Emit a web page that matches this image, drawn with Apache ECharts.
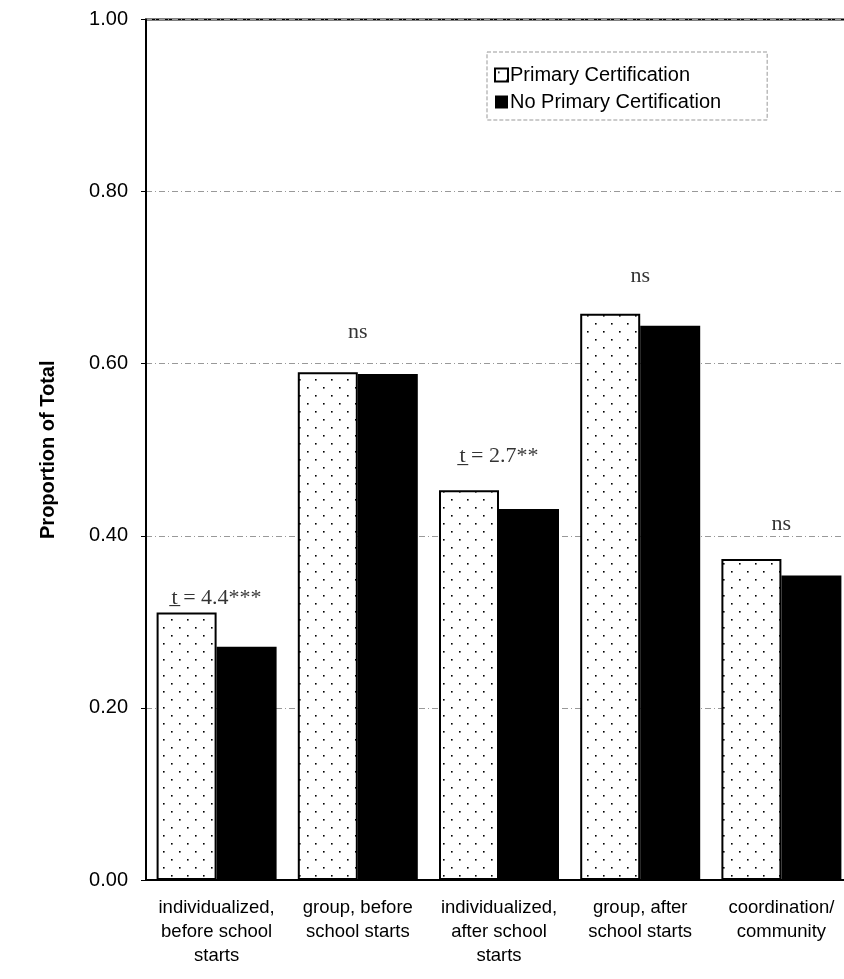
<!DOCTYPE html>
<html>
<head>
<meta charset="utf-8">
<script src="https://cdn.jsdelivr.net/npm/echarts@6/dist/echarts.min.js"></script>
<style>
html,body{margin:0;padding:0;background:#fff;overflow:hidden;}
#chart{width:844px;height:979px;}
</style>
</head>
<body>
<div id="chart"></div>
<script>
const categories = [
  'individualized,\nbefore school\nstarts',
  'group, before\nschool starts',
  'individualized,\nafter school\nstarts',
  'group, after\nschool starts',
  'coordination/\ncommunity'
];
const primaryCert = [0.311, 0.590, 0.453, 0.658, 0.373];
const noPrimaryCert = [0.271, 0.588, 0.431, 0.644, 0.354];
const annotationText = ['t\u0332 = 4.4***', 'ns', 't\u0332 = 2.7**', 'ns', 'ns'];
const annotationY = [0.328, 0.637, 0.492, 0.702, 0.413];

function dotPattern() {
  const c = document.createElement('canvas');
  c.width = 16; c.height = 16;
  const ctx = c.getContext('2d');
  ctx.fillStyle = '#fff';
  ctx.fillRect(0, 0, 16, 16);
  ctx.fillStyle = '#000';
  ctx.fillRect(3, 3, 1.6, 1.6);
  ctx.fillRect(11, 11, 1.6, 1.6);
  return c;
}

const sans = "Arial, 'Liberation Sans', Helvetica, sans-serif";
const serif = "'Times New Roman', 'Liberation Serif', serif";

const chart = echarts.init(document.getElementById('chart'), null, {renderer: 'canvas'});
chart.setOption({
  backgroundColor: '#fff',
  animation: false,
  grid: {left: 146, width: 706, top: 19.5, bottom: 99, show: true, borderColor: '#000', borderWidth: 2,
    backgroundColor: 'transparent', containLabel: false, outerBoundsMode: 'none'},
  legend: {
    data: ['Primary Certification', 'No Primary Certification'],
    orient: 'vertical',
    left: 487, top: 52,
    padding: [13, 46, 8, 7],
    icon: 'rect',
    itemWidth: 13, itemHeight: 13, itemGap: 7,
    borderColor: '#999', borderWidth: 1, borderType: 'dashed',
    textStyle: {fontFamily: sans, fontSize: 20, color: '#000', padding: [0, 0, 0, -3]}
  },
  xAxis: {
    type: 'category',
    data: categories,
    axisLine: {lineStyle: {color: '#000', width: 2}},
    axisTick: {show: false},
    axisLabel: {fontFamily: sans, fontSize: 18.5, color: '#000', lineHeight: 24, margin: 16, interval: 0}
  },
  yAxis: {
    type: 'value',
    min: 0, max: 1, interval: 0.2,
    name: 'Proportion of Total',
    nameLocation: 'middle',
    nameGap: 88,
    nameTextStyle: {fontFamily: sans, fontSize: 20, fontWeight: 'bold', color: '#000'},
    axisLine: {show: true, lineStyle: {color: '#000', width: 2}},
    axisTick: {show: true, length: 5, lineStyle: {color: '#000'}},
    axisLabel: {fontFamily: sans, fontSize: 20, color: '#000', margin: 18,
      formatter: v => v.toFixed(2)},
    splitLine: {show: true, lineStyle: {color: '#999', type: [6, 3, 1, 3], width: 1}}
  },
  series: [
    {
      name: 'Primary Certification',
      type: 'bar',
      data: primaryCert,
      barWidth: 60,
      barGap: '0%',
      itemStyle: {color: {image: dotPattern(), repeat: 'repeat'}, borderColor: '#000', borderWidth: 2}
    },
    {
      name: 'No Primary Certification',
      type: 'bar',
      data: noPrimaryCert,
      barWidth: 60,
      itemStyle: {color: '#000'}
    },
    {
      name: 'annotations',
      type: 'scatter',
      data: annotationY,
      symbolSize: 0,
      silent: true,
      label: {
        show: true, position: 'inside',
        formatter: p => annotationText[p.dataIndex],
        fontFamily: serif, fontSize: 22, color: '#000'
      }
    }
  ]
});
</script>
</body>
</html>
